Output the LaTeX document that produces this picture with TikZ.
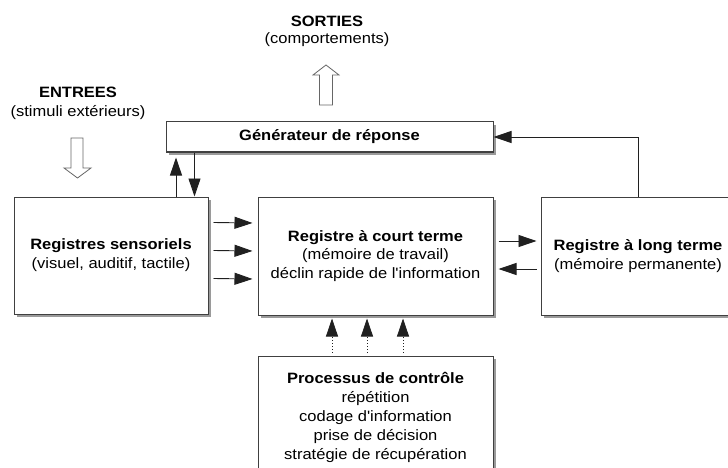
\documentclass[tikz,border=0pt]{standalone}
\usepackage{fontspec}
\newfontfamily\diagfont{Liberation Sans}[FakeStretch=1.1]
\usetikzlibrary{arrows.meta,shadows}
\definecolor{boxline}{HTML}{404040}
\definecolor{shade}{HTML}{9A9A9A}
\definecolor{wire}{HTML}{202020}
\begin{document}
\begin{tikzpicture}[x=1pt,y=-1pt,
  every node/.style={font=\diagfont\fontsize{15}{18.8}\selectfont, inner sep=0pt, align=center},
  box/.style={draw=boxline, line width=1pt, fill=white,
    drop shadow={shadow xshift=3pt, shadow yshift=-3pt, fill=shade, opacity=1}},
  arr/.style={draw=wire, line width=0.9pt, -{Triangle[length=18pt,width=12pt]}},
  dots/.style={arr, dotted, line width=0.8pt},
  hollow/.style={draw=gray!80!black, line width=0.8pt, fill=white}]
\useasboundingbox (0,0) rectangle (728,468);
\fill[white] (0,0) rectangle (728,468);
\clip (0,0) rectangle (728,468);

% input and output labels
\node (entrees) at (78,92) {\textbf{ENTREES}};
\node (stimuli) at (78,113) {(stimuli extérieurs)};
\node (sorties) at (327,21.5) {\textbf{SORTIES}};
\node (comport) at (327,40) {(comportements)};

% broad outline arrows
\draw[hollow] (71,138) -- (83,138) -- (83,168) -- (91,168) -- (77.5,178)
  -- (64,168) -- (71,168) -- cycle;
\draw[hollow] (319.5,105) -- (332.5,105) -- (332.5,75) -- (339,75) -- (326,65)
  -- (313,75) -- (319.5,75) -- cycle;

% boxes
\node[box, minimum width=327pt, minimum height=30pt] (gen) at (329.5,137)
  {\textbf{Générateur de réponse}};
\node[box, minimum width=194pt, minimum height=117pt] (sens) at (111,255.5)
  {\textbf{Registres sensoriels}\\(visuel, auditif, tactile)};
\node[box, minimum width=235pt, minimum height=118pt] (mid) at (375.5,256)
  {\textbf{Registre à court terme}\\(mémoire de travail)\\déclin rapide de l'information};
\node[box, minimum width=194pt, minimum height=118pt] (ltm) at (638,256)
  {\textbf{Registre à long terme}\\(mémoire permanente)};
\node[box, minimum width=235pt, minimum height=123pt] (proc) at (375.5,417.5)
  {\textbf{Processus de contrôle}\\répétition\\codage d'information\\prise de décision\\stratégie de récupération};

% sensory registers <-> response generator
\draw[arr] ([xshift=-32.5pt]sens.north east) -- ++(0,-39);
\draw[arr] ([xshift=-14pt]sens.north east |- gen.south) -- ([xshift=-14pt]sens.north east);

% sensory registers -> short-term register
\draw[arr] ([shift={(5,-33)}]sens.east) -- ([shift={(-5,-33)}]mid.west);
\draw[arr] ([shift={(5,-5)}]sens.east) -- ([shift={(-5,-5)}]mid.west);
\draw[arr] ([shift={(5,23)}]sens.east) -- ([shift={(-5,23)}]mid.west);

% short-term <-> long-term
\draw[arr] ([shift={(5,-15)}]mid.east) -- ([shift={(-4,-15)}]ltm.west);
\draw[arr] ([shift={(-4,13)}]ltm.west) -- ([shift={(5,13)}]mid.east);

% long-term -> response generator
\draw[arr] (ltm.north) |- (gen.east);

% control processes -> short-term register
\draw[dots] ([shift={(-43.5,-3)}]proc.north) -- ([shift={(-43.5,3)}]mid.south);
\draw[dots] ([shift={(-8.5,-3)}]proc.north) -- ([shift={(-8.5,3)}]mid.south);
\draw[dots] ([shift={(27.5,-3)}]proc.north) -- ([shift={(27.5,3)}]mid.south);
\end{tikzpicture}
\end{document}
